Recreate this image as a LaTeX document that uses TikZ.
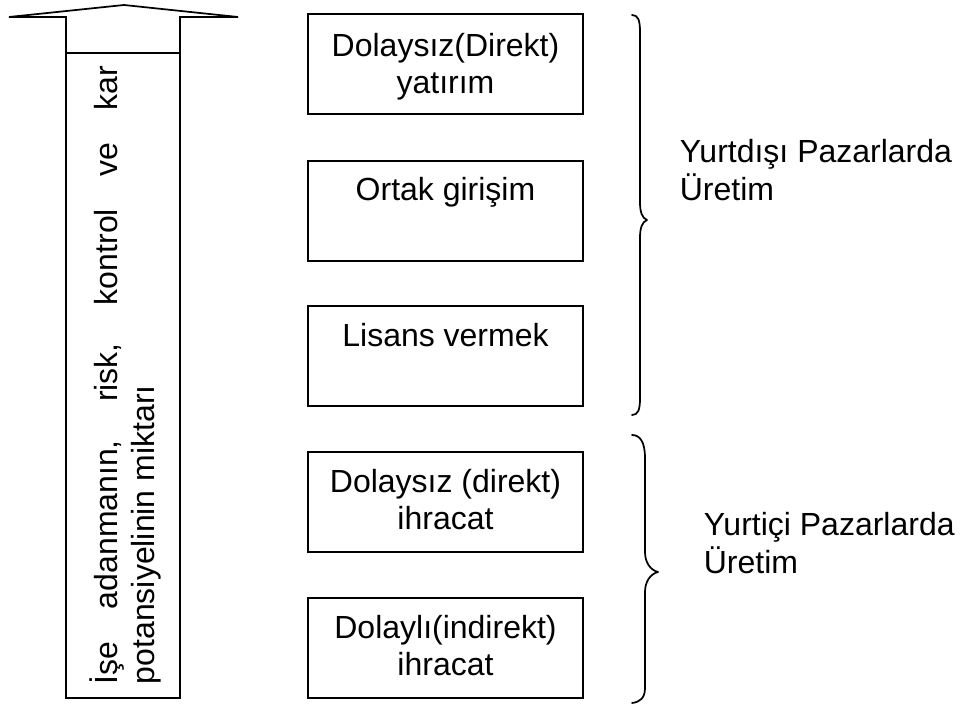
\documentclass[tikz,border=0pt]{standalone}
\usepackage{fontspec}
\setmainfont{Liberation Sans}
\usetikzlibrary{calc}
\begin{document}
\begin{tikzpicture}[x=0.75pt,y=-0.75pt,
  line width=1.3pt,
  every node/.style={font=\fontsize{24}{27.75}\selectfont},
  optionbox/.style={draw, rectangle, minimum width=206.25pt, minimum height=75pt,
    inner sep=0pt, outer sep=0pt, anchor=north west},
  boxtext/.style={anchor=base, inner sep=0pt},
  shaftbox/.style={draw, rectangle, minimum width=85.5pt, minimum height=483.75pt,
    inner sep=0pt, outer sep=0pt, anchor=north west},
  groupbrace/.style={line width=1.3pt, line cap=round, line join=round},
  grouplabel/.style={anchor=base west, inner sep=0pt}]
\useasboundingbox (0,0) rectangle (960,705);

% upward arrow: shaft with the explanatory text, head on top
\node[shaftbox] (shaft) at (66,53) {};
\coordinate (headL) at (9,17);
\coordinate (apex) at (124,5);
\coordinate (headR) at (238,17);
\draw[line join=miter] (shaft.north west) -- (shaft.north west |- headL) -- (headL)
  -- (apex) -- (headR) -- (shaft.north east |- headR) -- (shaft.north east);
\node[rotate=90, anchor=base west, inner sep=0pt] (shafttext) at (117,685)
  {\parbox[t]{463.5pt}{\makebox[\linewidth][s]{İşe adanmanın, risk, kontrol ve kar}\\
   potansiyelinin miktarı}};

% entry modes
\node[optionbox] (b1) at (308,14) {};
\node[optionbox] (b2) at (308,161) {};
\node[optionbox] (b3) at (308,306) {};
\node[optionbox] (b4) at (308,452) {};
\node[optionbox] (b5) at (308,598) {};

\node[boxtext] (t1) at ($(b1.north)+(0,43)$)
  {\begin{tabular}[t]{@{}c@{}}Dolaysız(Direkt)\\yatırım\end{tabular}};
\node[boxtext] (t2) at ($(b2.north)+(0,40)$)
  {\begin{tabular}[t]{@{}c@{}}Ortak girişim\end{tabular}};
\node[boxtext] (t3) at ($(b3.north)+(0,41)$)
  {\begin{tabular}[t]{@{}c@{}}Lisans vermek\end{tabular}};
\node[boxtext] (t4) at ($(b4.north)+(0,41)$)
  {\begin{tabular}[t]{@{}c@{}}Dolaysız (direkt)\\ihracat\end{tabular}};
\node[boxtext] (t5) at ($(b5.north)+(0,40)$)
  {\begin{tabular}[t]{@{}c@{}}Dolaylı(indirekt)\\ihracat\end{tabular}};

% group braces
\draw[groupbrace] (632,15) .. controls (638,15) and (640,20) .. (640,32)
  -- (640,202) .. controls (640,212) and (642,218) .. (647,220)
  .. controls (642,222) and (640,228) .. (640,238)
  -- (640,398) .. controls (640,410) and (638,415) .. (632,415);
\draw[groupbrace] (632,435) .. controls (640,435) and (645,442) .. (645,458)
  -- (645,552) .. controls (645,562) and (650,570) .. (658,572)
  .. controls (650,574) and (645,582) .. (645,592)
  -- (645,688) .. controls (645,698) and (640,702) .. (632,703);

% group labels
\node[grouplabel] (g1) at (679,163)
  {\begin{tabular}[t]{@{}l@{}}Yurtdışı Pazarlarda\\Üretim\end{tabular}};
\node[grouplabel] (g2) at (703,536)
  {\begin{tabular}[t]{@{}l@{}}Yurtiçi Pazarlarda\\Üretim\end{tabular}};
\end{tikzpicture}
\end{document}
